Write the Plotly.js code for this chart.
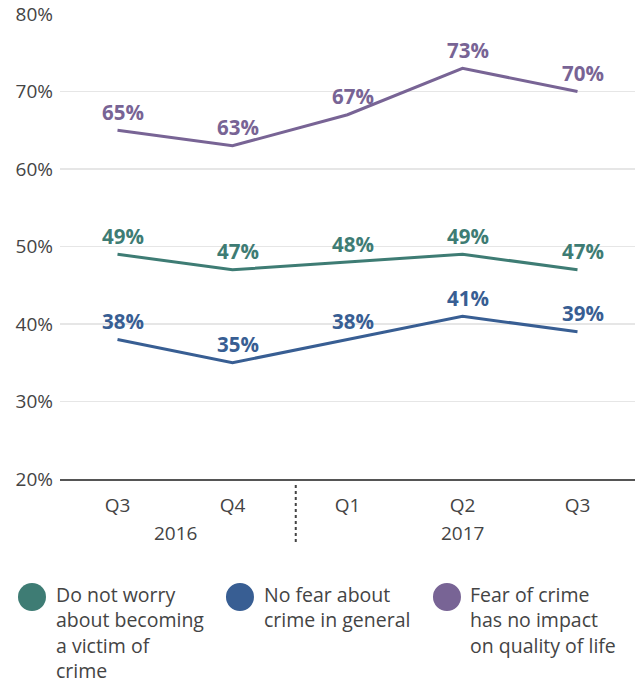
<!DOCTYPE html>
<html>
<head>
<meta charset="utf-8">
<script src="https://cdn.plot.ly/plotly-3.0.1.min.js"></script>
<style>html,body{margin:0;padding:0;background:#fff;}#chart{width:635px;height:684px;}</style>
</head>
<body>
<div id="chart"></div>
<script>
var quarters = ["Q3", "Q4", "Q1", "Q2", "Q3"];
var years = ["2016", "2016", "2017", "2017", "2017"];
var seriesNames = [
  ["Do not worry", "about becoming", "a victim of", "crime"],
  ["No fear about", "crime in general"],
  ["Fear of crime", "has no impact", "on quality of life"]
];
var notWorry = [49, 47, 48, 49, 47];
var noFear = [38, 35, 38, 41, 39];
var noImpact = [65, 63, 67, 73, 70];
var yTicks = [20, 30, 40, 50, 60, 70, 80];
var yTickText = yTicks.map(function (v) { return v + "%"; });

var colors = ["#3e7c74", "#385e93", "#786495"];
var allSeries = [notWorry, noFear, noImpact];
var FONT = "Open Sans, Noto Sans, sans-serif";

var idx = quarters.map(function (q, i) { return i; });

var traces = allSeries.map(function (vals, s) {
  return {
    x: idx, y: vals, type: "scatter", mode: "lines",
    line: {color: colors[s], width: 3},
    hoverinfo: "skip", showlegend: false
  };
});

var annotations = [];
allSeries.forEach(function (vals, s) {
  vals.forEach(function (v, i) {
    annotations.push({
      x: i, y: v, xref: "x", yref: "y", text: "<b>" + v + "%</b>",
      showarrow: false, yshift: 18.5, xshift: 5,
      font: {family: FONT, size: 20.5, color: colors[s]}
    });
  });
});

// year labels centred under their quarters
var uniqueYears = years.filter(function (y, i) { return years.indexOf(y) === i; });
uniqueYears.forEach(function (yr) {
  var ids = idx.filter(function (i) { return years[i] === yr; });
  var c = ids.reduce(function (a, b) { return a + b; }, 0) / ids.length;
  annotations.push({
    x: c, xref: "x", y: -0.116, yref: "paper", text: yr, showarrow: false,
    yanchor: "middle", font: {family: FONT, size: 19, color: "#444"}
  });
});

// legend
var legendCircleX = [-0.0487, 0.3130, 0.6730];
var legendTextX = [-0.0104, 0.3513, 0.7096];
var shapes = [{
  type: "line", xref: "paper", yref: "paper",
  x0: 0.41, x1: 0.41, y0: -0.0129, y1: -0.1376,
  line: {color: "#444", width: 2, dash: "dot"}
}];
seriesNames.forEach(function (lines, s) {
  shapes.push({
    type: "circle", xref: "paper", yref: "paper",
    xsizemode: "pixel", ysizemode: "pixel",
    xanchor: legendCircleX[s], yanchor: -0.2538,
    x0: -14, x1: 14, y0: -14, y1: 14,
    fillcolor: colors[s], line: {width: 0}
  });
  annotations.push({
    x: legendTextX[s], y: -0.2161,
    xref: "paper", yref: "paper",
    xanchor: "left", yanchor: "top", align: "left", showarrow: false,
    text: lines.join("<br>"), font: {family: FONT, size: 19.5, color: "#444"}
  });
});

var layout = {
  width: 635, height: 684,
  margin: {l: 60, r: 0, t: 14, b: 205},
  paper_bgcolor: "#fff", plot_bgcolor: "#fff",
  showlegend: false,
  xaxis: {
    range: [-0.5, 4.5], tickvals: idx, ticktext: quarters,
    showgrid: false, zeroline: false, showline: true,
    linecolor: "#555", linewidth: 2, ticks: "", ticklabelstandoff: 8,
    tickfont: {family: FONT, size: 19, color: "#444"}, fixedrange: true
  },
  yaxis: {
    range: [20, 80], tickvals: yTicks, ticktext: yTickText,
    showgrid: true, gridcolor: "#e6e6e6", gridwidth: 1.5,
    zeroline: false, showline: false, ticks: "", ticklabelstandoff: 6,
    tickfont: {family: FONT, size: 19, color: "#444"}, fixedrange: true
  },
  annotations: annotations,
  shapes: shapes
};

Plotly.newPlot("chart", traces, layout, {displayModeBar: false, staticPlot: true});
</script>
</body>
</html>
